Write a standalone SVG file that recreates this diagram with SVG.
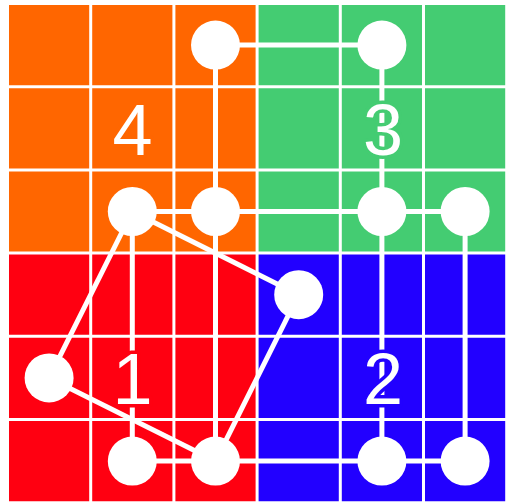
<svg xmlns="http://www.w3.org/2000/svg" width="506" height="504" viewBox="0 0 506 504">
<style>
.grid line{stroke:#fff;stroke-width:3}
.edges line{stroke:#fff;stroke-width:5}
.node circle{fill:#fff}
.lbl{font-family:"Liberation Sans",Arial,sans-serif;font-size:72px;fill:#fff;text-anchor:middle;stroke-width:7;stroke-linejoin:round;paint-order:stroke}
</style>
<rect width="506" height="504" fill="#fff"/>
<g id="regions">
<rect x="7.5" y="3.5" width="249.6" height="249.6" fill="#FF6600"/>
<rect x="257.1" y="3.5" width="249.6" height="249.6" fill="#44CC72"/>
<rect x="7.5" y="253.1" width="249.6" height="249.6" fill="#FF0011"/>
<rect x="257.1" y="253.1" width="249.6" height="249.6" fill="#2200FF"/>
</g>
<g class="grid">
<line x1="7.5" y1="0" x2="7.5" y2="504"/>
<line x1="90.7" y1="0" x2="90.7" y2="504"/>
<line x1="173.9" y1="0" x2="173.9" y2="504"/>
<line x1="257.1" y1="0" x2="257.1" y2="504"/>
<line x1="340.3" y1="0" x2="340.3" y2="504"/>
<line x1="423.5" y1="0" x2="423.5" y2="504"/>
<line x1="506.7" y1="0" x2="506.7" y2="504"/>
<line x1="0" y1="3.5" x2="506" y2="3.5"/>
<line x1="0" y1="86.7" x2="506" y2="86.7"/>
<line x1="0" y1="169.9" x2="506" y2="169.9"/>
<line x1="0" y1="253.1" x2="506" y2="253.1"/>
<line x1="0" y1="336.3" x2="506" y2="336.3"/>
<line x1="0" y1="419.5" x2="506" y2="419.5"/>
<line x1="0" y1="502.7" x2="506" y2="502.7"/>
</g>
<g class="edges">
<line x1="215.5" y1="45.1" x2="381.9" y2="45.1"/>
<line x1="215.5" y1="45.1" x2="215.5" y2="211.5"/>
<line x1="381.9" y1="45.1" x2="381.9" y2="211.5"/>
<line x1="132.3" y1="211.5" x2="465.1" y2="211.5"/>
<line x1="132.3" y1="211.5" x2="298.7" y2="294.7"/>
<line x1="132.3" y1="211.5" x2="49.1" y2="377.9"/>
<line x1="132.3" y1="211.5" x2="132.3" y2="461.1"/>
<line x1="215.5" y1="211.5" x2="215.5" y2="461.1"/>
<line x1="381.9" y1="211.5" x2="381.9" y2="461.1"/>
<line x1="465.1" y1="211.5" x2="465.1" y2="461.1"/>
<line x1="298.7" y1="294.7" x2="215.5" y2="461.1"/>
<line x1="49.1" y1="377.9" x2="215.5" y2="461.1"/>
<line x1="132.3" y1="461.1" x2="465.1" y2="461.1"/>
</g>
<g id="labels">
<text class="lbl" x="132.5" y="155" stroke="#FF6600">4</text>
<text class="lbl" x="383" y="155" stroke="#44CC72">3</text>
<text class="lbl" x="132.5" y="404" stroke="#FF0011">1</text>
<text class="lbl" x="383" y="404" stroke="#2200FF">2</text>
</g>
<g id="nA" class="node"><circle cx="215.5" cy="45.1" r="24.5"/></g>
<g id="nB" class="node"><circle cx="381.9" cy="45.1" r="24.5"/></g>
<g id="nC" class="node"><circle cx="132.3" cy="211.5" r="24.5"/></g>
<g id="nD" class="node"><circle cx="215.5" cy="211.5" r="24.5"/></g>
<g id="nE" class="node"><circle cx="381.9" cy="211.5" r="24.5"/></g>
<g id="nF" class="node"><circle cx="465.1" cy="211.5" r="24.5"/></g>
<g id="nG" class="node"><circle cx="298.7" cy="294.7" r="24.5"/></g>
<g id="nH" class="node"><circle cx="49.1" cy="377.9" r="24.5"/></g>
<g id="nI" class="node"><circle cx="132.3" cy="461.1" r="24.5"/></g>
<g id="nJ" class="node"><circle cx="215.5" cy="461.1" r="24.5"/></g>
<g id="nK" class="node"><circle cx="381.9" cy="461.1" r="24.5"/></g>
<g id="nL" class="node"><circle cx="465.1" cy="461.1" r="24.5"/></g>
</svg>
